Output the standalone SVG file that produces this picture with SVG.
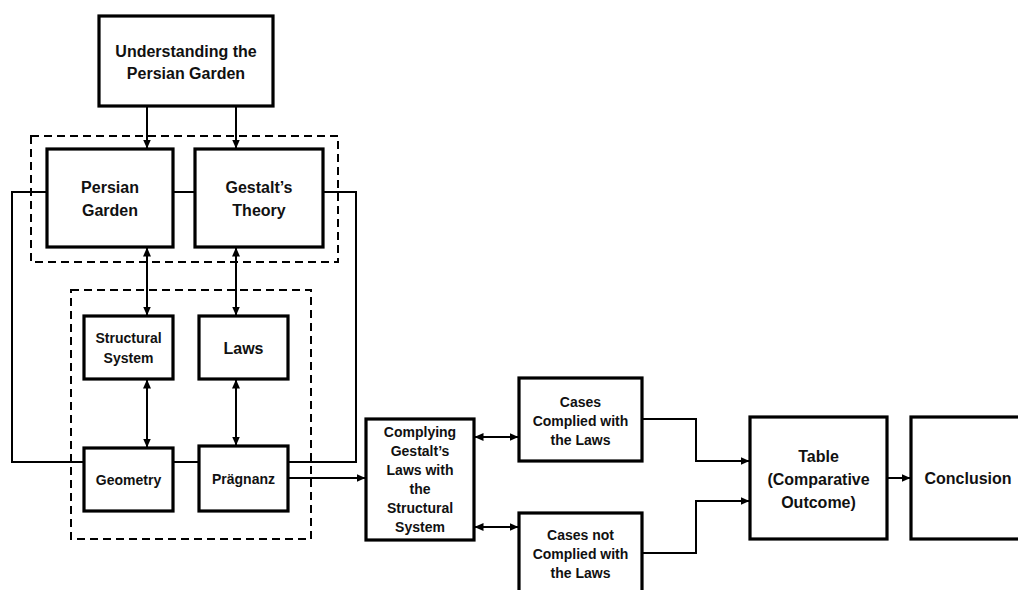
<svg xmlns="http://www.w3.org/2000/svg" width="1018" height="590" viewBox="0 0 1018 590">
<style>
.box{fill:#fff;stroke:#000;stroke-width:3.2}
.dash{fill:none;stroke:#000;stroke-width:2;stroke-dasharray:8,5}
.ln{fill:none;stroke:#000;stroke-width:2}
text{font-family:"Liberation Sans",Arial,sans-serif;font-weight:bold;text-anchor:middle;fill:#111}
.t16{font-size:16px}
.t14{font-size:14px}
</style>
<defs>
<marker id="ah" markerWidth="9" markerHeight="8" refX="8.5" refY="4" orient="auto-start-reverse" markerUnits="userSpaceOnUse">
<path d="M0,0 L9,4 L0,8 Z" fill="#000"/>
</marker>
</defs>
<rect width="1018" height="590" fill="#fff"/>
<g id="groups">
<rect class="dash" x="31" y="136" width="307" height="126"/>
<rect class="dash" x="71" y="290" width="240" height="249"/>
</g>
<g id="connectors">
<line class="ln" x1="147" y1="106" x2="147" y2="148" marker-end="url(#ah)"/>
<line class="ln" x1="236" y1="106" x2="236" y2="148" marker-end="url(#ah)"/>
<line class="ln" x1="173" y1="192" x2="195" y2="192"/>
<polyline class="ln" points="47,192 12,192 12,462 84,462"/>
<polyline class="ln" points="323,192 356,192 356,462 288,462"/>
<line class="ln" x1="147" y1="248" x2="147" y2="315" marker-start="url(#ah)" marker-end="url(#ah)"/>
<line class="ln" x1="236" y1="248" x2="236" y2="315" marker-start="url(#ah)" marker-end="url(#ah)"/>
<line class="ln" x1="147" y1="380" x2="147" y2="447" marker-start="url(#ah)" marker-end="url(#ah)"/>
<line class="ln" x1="236" y1="380" x2="236" y2="445" marker-start="url(#ah)" marker-end="url(#ah)"/>
<line class="ln" x1="173" y1="462" x2="199" y2="462"/>
<line class="ln" x1="288" y1="478" x2="365" y2="478" marker-end="url(#ah)"/>
<line class="ln" x1="475" y1="437" x2="518" y2="437" marker-start="url(#ah)" marker-end="url(#ah)"/>
<line class="ln" x1="475" y1="527" x2="518" y2="527" marker-start="url(#ah)" marker-end="url(#ah)"/>
<polyline class="ln" points="642,419 696,419 696,461 749,461" marker-end="url(#ah)"/>
<polyline class="ln" points="642,553 696,553 696,501 749,501" marker-end="url(#ah)"/>
<line class="ln" x1="887" y1="478" x2="910" y2="478" marker-end="url(#ah)"/>
</g>
<g id="understanding">
<rect class="box" x="99" y="16" width="174" height="90"/>
<text class="t16" x="186" y="57">Understanding the</text>
<text class="t16" x="186" y="79">Persian Garden</text>
</g>
<g id="persian-garden">
<rect class="box" x="47" y="149" width="126" height="98"/>
<text class="t16" x="110" y="193">Persian</text>
<text class="t16" x="110" y="216">Garden</text>
</g>
<g id="gestalt-theory">
<rect class="box" x="195" y="149" width="128" height="98"/>
<text class="t16" x="259" y="193">Gestalt’s</text>
<text class="t16" x="259" y="216">Theory</text>
</g>
<g id="structural-system">
<rect class="box" x="84" y="316" width="89" height="63"/>
<text class="t14" x="128.5" y="343">Structural</text>
<text class="t14" x="128.5" y="363">System</text>
</g>
<g id="laws">
<rect class="box" x="199" y="316" width="89" height="63"/>
<text class="t16" x="243.5" y="354">Laws</text>
</g>
<g id="geometry">
<rect class="box" x="84" y="448" width="89" height="63"/>
<text class="t14" x="128.5" y="485">Geometry</text>
</g>
<g id="pragnanz">
<rect class="box" x="199" y="446" width="89" height="65"/>
<text class="t14" x="243.5" y="484">Prägnanz</text>
</g>
<g id="complying">
<rect class="box" x="366" y="419" width="108" height="121"/>
<text class="t14" x="420" y="437">Complying</text>
<text class="t14" x="420" y="456">Gestalt’s</text>
<text class="t14" x="420" y="475">Laws with</text>
<text class="t14" x="420" y="494">the</text>
<text class="t14" x="420" y="513">Structural</text>
<text class="t14" x="420" y="532">System</text>
</g>
<g id="cases-complied">
<rect class="box" x="519" y="378" width="123" height="83"/>
<text class="t14" x="580.5" y="407">Cases</text>
<text class="t14" x="580.5" y="426">Complied with</text>
<text class="t14" x="580.5" y="445">the Laws</text>
</g>
<g id="cases-not-complied">
<rect class="box" x="519" y="513" width="123" height="90"/>
<text class="t14" x="580.5" y="540">Cases not</text>
<text class="t14" x="580.5" y="559">Complied with</text>
<text class="t14" x="580.5" y="578">the Laws</text>
</g>
<g id="table">
<rect class="box" x="750" y="417" width="137" height="122"/>
<text class="t16" x="818.5" y="462">Table</text>
<text class="t16" x="818.5" y="485">(Comparative</text>
<text class="t16" x="818.5" y="508">Outcome)</text>
</g>
<g id="conclusion">
<rect class="box" x="911" y="417" width="112" height="122"/>
<text class="t16" x="968" y="484">Conclusion</text>
</g>
</svg>
